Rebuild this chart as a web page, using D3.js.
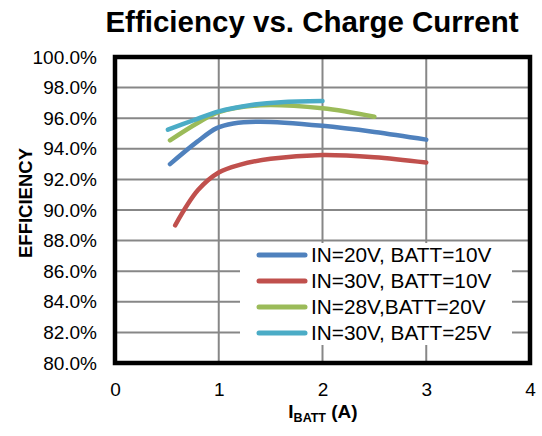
<!DOCTYPE html>
<html lang="en">
<head>
<meta charset="UTF-8">
<title>Efficiency vs. Charge Current</title>
<script src="https://cdn.jsdelivr.net/npm/d3@7"></script>
<style>
  body { margin: 0; background: #fff; }
  text { font-family: Arial, "Liberation Sans", sans-serif; fill: #000; }
</style>
</head>
<body>
<div id="container"></div>
<script>
// data
const seriesNames = ["IN=20V, BATT=10V", "IN=30V, BATT=10V", "IN=28V,BATT=20V", "IN=30V, BATT=25V"];
const seriesColors = ["#4F81BD", "#C0504D", "#9BBB59", "#4BACC6"];

const blueX = [0.53, 0.79, 0.98, 1.14, 1.4, 2.0, 2.5, 3.0];
const blueY = [93.0, 94.45, 95.35, 95.65, 95.77, 95.5, 95.1, 94.6];
const redX = [0.58, 0.8, 1.0, 1.2, 1.5, 2.0, 2.5, 3.0];
const redY = [89.0, 91.3, 92.45, 92.95, 93.35, 93.6, 93.45, 93.1];
const greenX = [0.53, 0.8, 1.0, 1.4, 2.0, 2.5];
const greenY = [94.55, 95.7, 96.4, 96.85, 96.65, 96.1];
const cyanX = [0.51, 0.75, 1.0, 1.3, 1.6, 2.0];
const cyanY = [95.25, 95.85, 96.45, 96.85, 97.05, 97.12];

const xTicks = [0, 1, 2, 3, 4];
const yTicks = [80, 82, 84, 86, 88, 90, 92, 94, 96, 98, 100];

const w = 542, h = 436;
const pL = 115, pR = 530, pT = 57, pB = 363; // plot frame edges

const svg = d3.select("#container").append("svg").attr("width", w).attr("height", h);

const x = d3.scaleLinear([0, 4], [pL, pR]);
const y = d3.scaleLinear([80, 100], [pB, pT]);

// title
svg.append("text").attr("x", 312).attr("y", 32).attr("text-anchor", "middle")
  .style("font-size", "29.5px").style("font-weight", "bold").text("Efficiency vs. Charge Current");

// grid
svg.append("g").selectAll("line").data(yTicks.slice(1, -1)).join("line")
  .attr("x1", pL).attr("x2", pR).attr("y1", d => y(d)).attr("y2", d => y(d))
  .attr("stroke", "#878787").attr("stroke-width", 2);
svg.append("g").selectAll("line").data(xTicks.slice(1, -1)).join("line")
  .attr("x1", d => x(d)).attr("x2", d => x(d)).attr("y1", pT).attr("y2", pB)
  .attr("stroke", "#878787").attr("stroke-width", 2);

// axes (labels only)
const yAx = svg.append("g").attr("transform", `translate(${pL},0)`)
  .call(d3.axisLeft(y).tickValues(yTicks).tickSize(0).tickPadding(18).tickFormat(d => d.toFixed(1) + "%"));
const xAx = svg.append("g").attr("transform", `translate(0,${pB})`)
  .call(d3.axisBottom(x).tickValues(xTicks).tickSize(0).tickPadding(20).tickFormat(d3.format("d")));
[yAx, xAx].forEach(g => {
  g.select(".domain").remove();
  g.selectAll("text").style("font-size", "19px").style("font-family", "Arial, 'Liberation Sans', sans-serif").attr("fill", "#000");
});

// lines
const allSeries = [[blueX, blueY], [redX, redY], [greenX, greenY], [cyanX, cyanY]];
const line = d3.line().x(d => x(d[0])).y(d => y(d[1])).curve(d3.curveCatmullRom.alpha(0.5));
allSeries.forEach((s, i) => {
  const pts = s[0].map((v, j) => [v, s[1][j]]);
  svg.append("path").datum(pts).attr("d", line).attr("fill", "none")
    .attr("stroke", seriesColors[i]).attr("stroke-width", 4.5)
    .attr("stroke-linecap", "round").attr("stroke-linejoin", "round");
});

// legend
const lg = svg.append("g");
lg.append("rect").attr("x", 240).attr("y", 243).attr("width", 272).attr("height", 102).attr("fill", "#fff");
seriesNames.forEach((n, i) => {
  const cy = 255 + i * 26;
  lg.append("line").attr("x1", 259).attr("x2", 305).attr("y1", cy).attr("y2", cy)
    .attr("stroke", seriesColors[i]).attr("stroke-width", 5).attr("stroke-linecap", "round");
  lg.append("text").attr("x", 311).attr("y", cy).attr("dy", "0.35em")
    .style("font-size", "20.8px").text(n);
});

// frame
svg.append("rect").attr("x", pL).attr("y", pT).attr("width", pR - pL).attr("height", pB - pT)
  .attr("fill", "none").attr("stroke", "#000").attr("stroke-width", 4.5);

// axis titles
svg.append("text").attr("transform", "translate(32,203) rotate(-90)").attr("text-anchor", "middle")
  .style("font-size", "18.5px").style("font-weight", "bold").text("EFFICIENCY");
const xt = svg.append("text").attr("x", 323).attr("y", 418).attr("text-anchor", "middle")
  .style("font-size", "19px").style("font-weight", "bold");
xt.append("tspan").text("I");
xt.append("tspan").attr("dy", 4).style("font-size", "12.5px").text("BATT");
xt.append("tspan").attr("dy", -4).text(" (A)");
</script>
</body>
</html>
